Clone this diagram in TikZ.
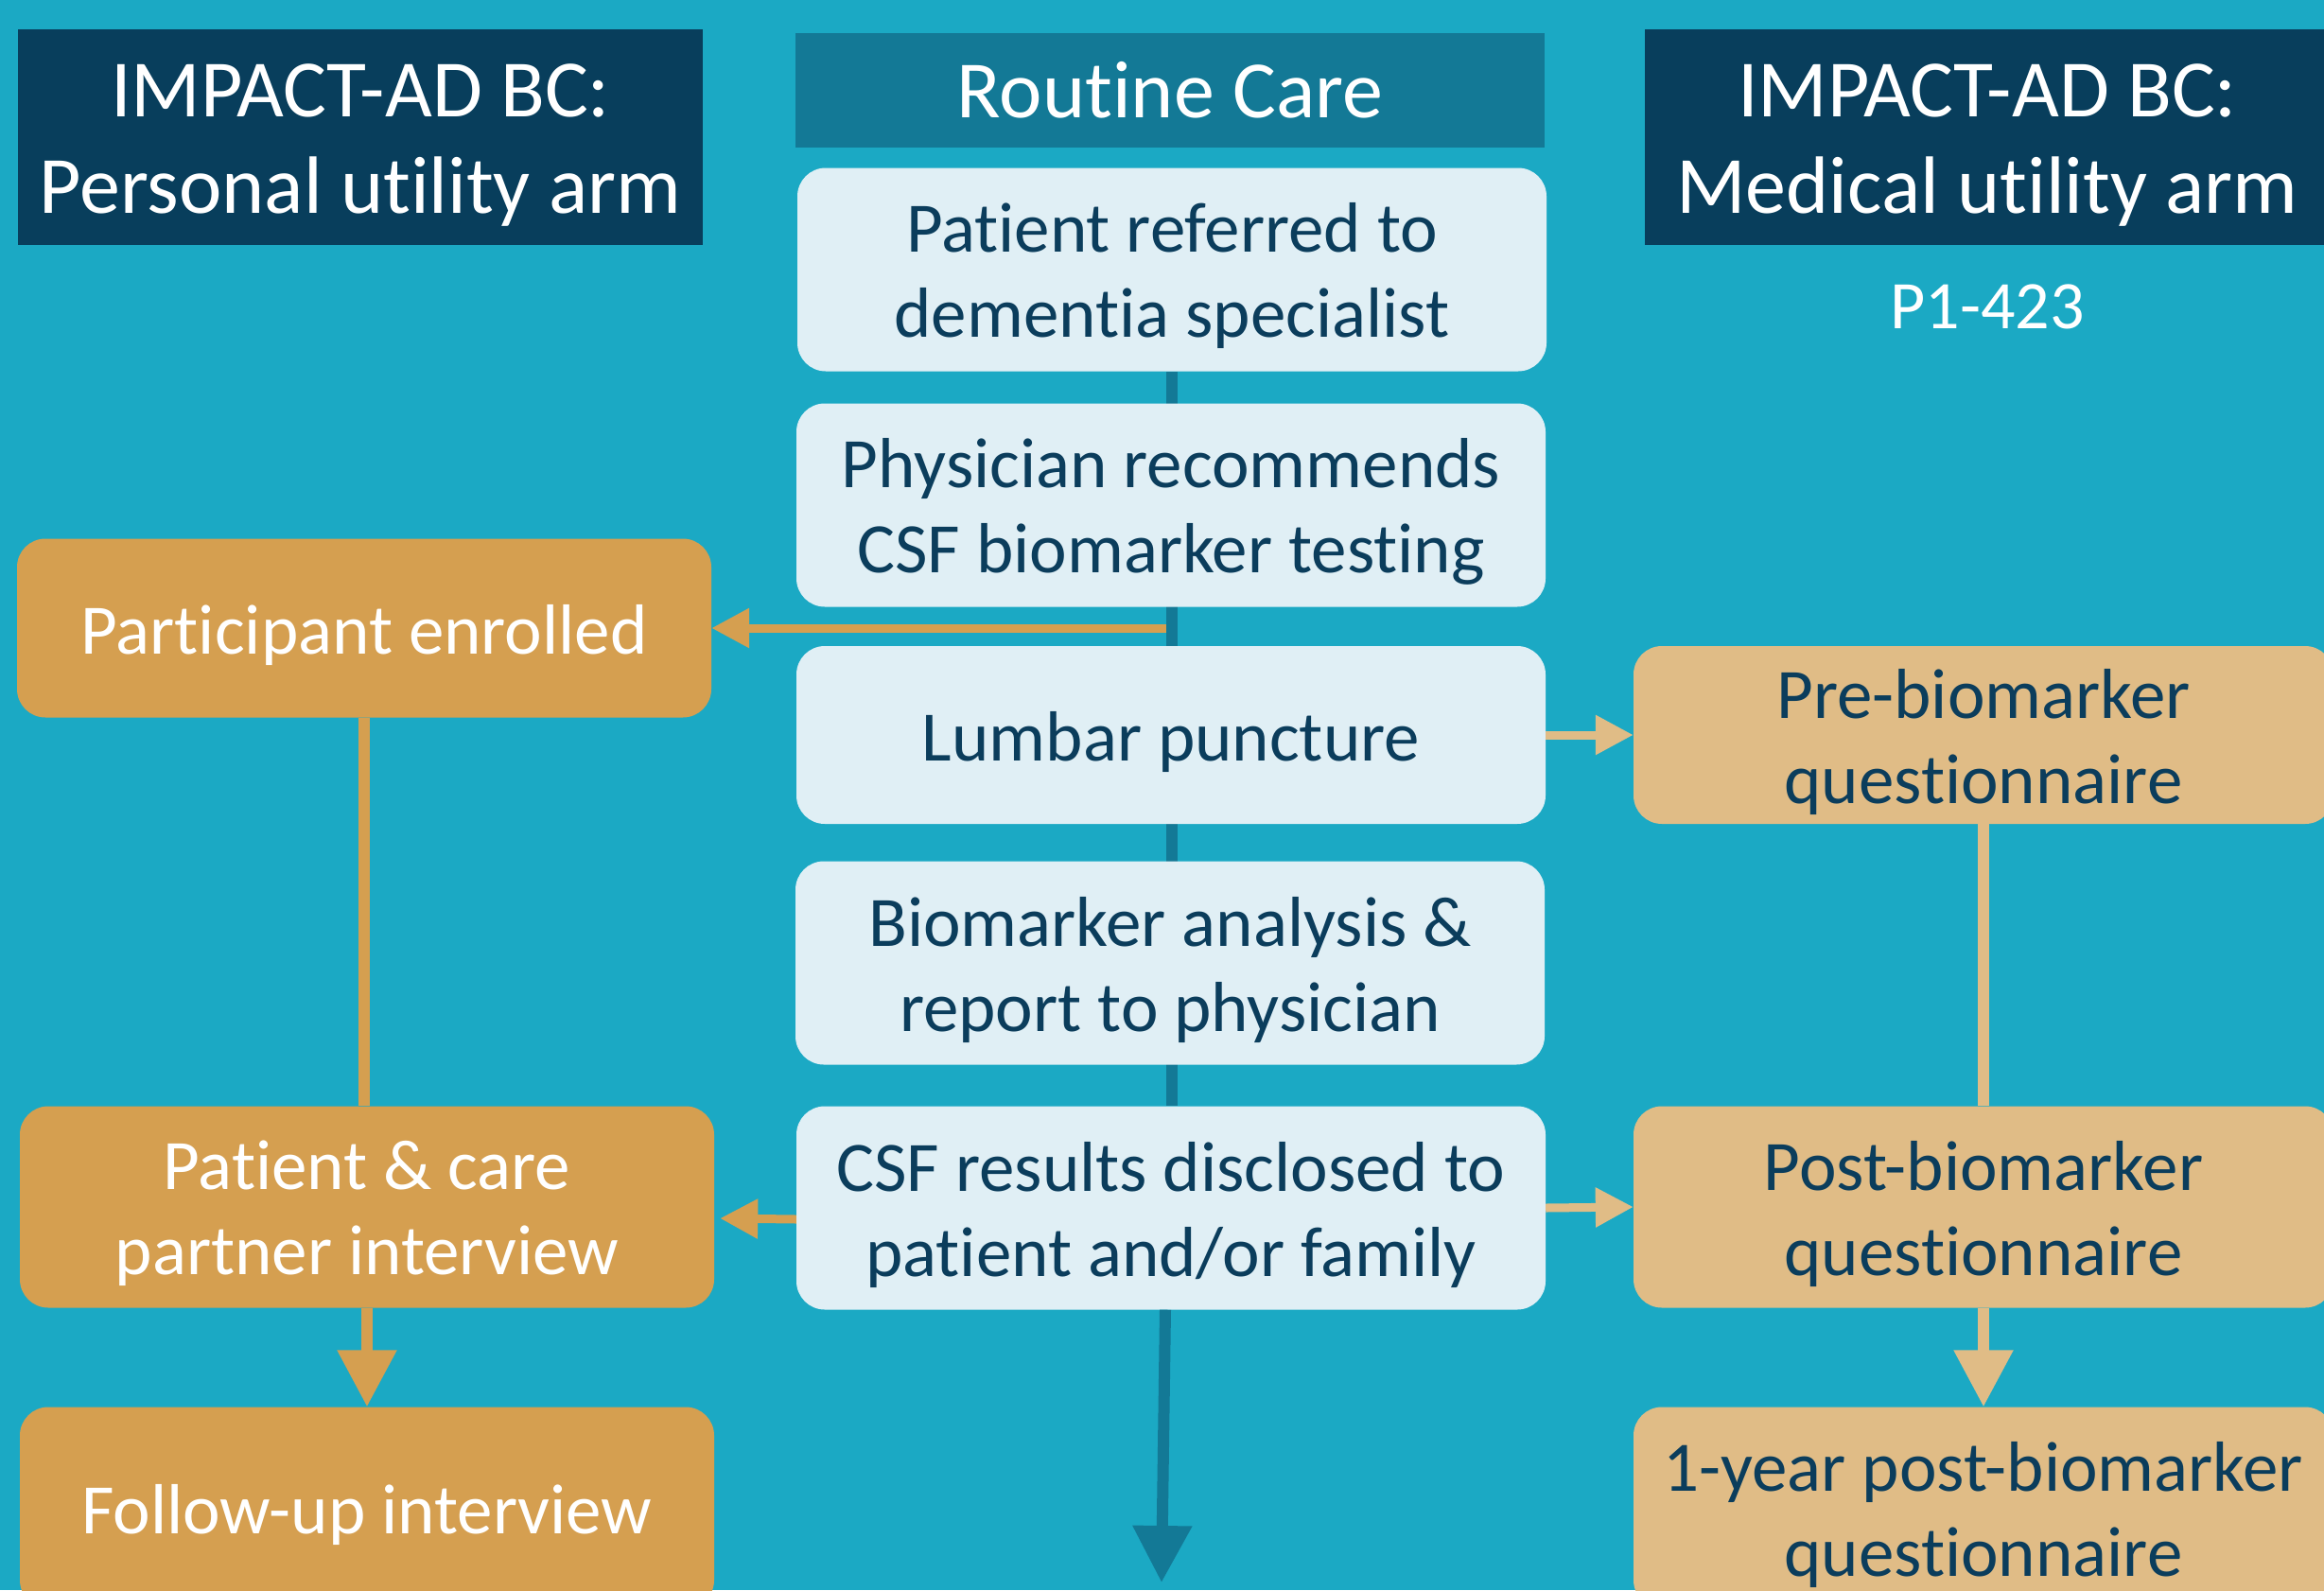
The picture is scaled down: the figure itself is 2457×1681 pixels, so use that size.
\documentclass[tikz,border=0pt]{standalone}
\usepackage{fontspec}
\setmainfont{Carlito}[Ligatures={NoCommon}]
\usetikzlibrary{arrows.meta}
\pgfdeclarelayer{bglayer}
\pgfdeclarelayer{lineslayer}
\pgfsetlayers{bglayer,lineslayer,main}
\definecolor{bgc}{HTML}{1BA9C4}
\definecolor{hdrdark}{HTML}{083E5C}
\definecolor{hdrmid}{HTML}{137996}
\definecolor{lightbox}{HTML}{E0EFF5}
\definecolor{navytext}{HTML}{0B3D5C}
\definecolor{orangebox}{HTML}{D59F50}
\definecolor{lorangebox}{HTML}{E0BC86}
\definecolor{darkline}{HTML}{137996}
\newcommand\boxfont{\fontsize{75}{90}\selectfont}
\newcommand\hdrfont{\fontsize{86}{102}\selectfont}
\newcommand\codefont{\fontsize{72}{88}\selectfont}
\tikzset{
  hdrtext/.style={font=\hdrfont, align=center, inner sep=0pt, text=white},
  boxtext/.style={font=\boxfont, align=center, inner sep=0pt},
  hdrbox/.style={fill=hdrdark, inner sep=0pt, minimum width=724pt, minimum height=228pt,
    label={[hdrtext, yshift=-9pt]center:#1}},
  midhdr/.style={fill=hdrmid, text=white, font=\hdrfont, align=center, inner sep=0pt, minimum width=792pt, minimum height=121pt},
  stepbox/.style={fill=lightbox, rounded corners=30pt, inner sep=0pt, minimum width=792pt, minimum height=215pt,
    label={[boxtext, text=navytext, yshift=-7pt]center:#1}},
  obox/.style={fill=orangebox, rounded corners=30pt, inner sep=0pt, minimum width=734pt, minimum height=213pt,
    label={[boxtext, text=white, yshift=-7pt]center:#1}},
  lobox/.style={fill=lorangebox, rounded corners=30pt, inner sep=0pt, minimum width=740pt, minimum height=213pt,
    label={[boxtext, text=navytext, yshift=-7pt]center:#1}},
  dline/.style={draw=darkline, line width=12pt},
  oline/.style={draw=orangebox, line width=12pt},
  loline/.style={draw=lorangebox, line width=12pt},
  ohline/.style={draw=orangebox, line width=9pt},
  lohline/.style={draw=lorangebox, line width=9pt},
  htip/.style={-{Triangle[length=40pt,width=40pt]}},
  vtip/.style={-{Triangle[length=60pt,width=60pt]}}
}
\begin{document}
\begin{tikzpicture}[x=1pt,y=-1pt]
\useasboundingbox (0,0) rectangle (2457,1681);
\clip (0,0) rectangle (2457,1681);
\begin{pgfonlayer}{bglayer}
\fill[bgc] (0,0) rectangle (2457,1681);
\end{pgfonlayer}

% headers
\node[hdrbox={IMPACT-AD BC:\\Personal utility arm}] (hL) at (381,145) {};
\node[midhdr] (hM) at (1237,95) {Routine Care};
\node[hdrbox={IMPACT-AD BC:\\Medical utility arm}] (hR) at (2101,145) {};
\node[text=white, font=\codefont, inner sep=0pt] (code) at (2101,324) {P1-423};

% routine care column
\node[stepbox={Patient referred to\\dementia specialist}] (m1) at (1239,285) {};
\node[stepbox={Physician recommends\\CSF biomarker testing}] (m2) at (1238,534) {};
\node[stepbox={Lumbar puncture}, minimum height=188pt] (m3) at (1238,777) {};
\node[stepbox={Biomarker analysis \&\\report to physician}] (m4) at (1237,1018) {};
\node[stepbox={CSF results disclosed to\\patient and/or family}] (m5) at (1238,1277) {};

% personal utility arm
\node[obox={Participant enrolled}, minimum height=189pt] (pe) at (385,664) {};
\node[obox={Patient \& care\\partner interview}] (pc) at (388,1276) {};
\node[obox={Follow-up interview}] (fu) at (388,1594) {};

% medical utility arm
\node[lobox={Pre-biomarker\\questionnaire}, minimum height=188pt] (pre) at (2097,777) {};
\node[lobox={Post-biomarker\\questionnaire}] (post) at (2097,1276) {};
\node[lobox={1-year post-biomarker\\questionnaire}] (yr) at (2097,1594) {};

\coordinate (endtip) at (1228,1673);

\begin{pgfonlayer}{lineslayer}
\draw[ohline, htip] (m2.south |- pe.east) -- (pe.east);
\draw[dline] (m1.south) -- (m1.south |- m5.north);
\draw[oline] (pe.south) -- (pe.south |- pc.north);
\draw[loline] (pre.south) -- (pre.south |- post.north);
\end{pgfonlayer}

\draw[dline, vtip] ([xshift=-6pt]m5.south) -- (endtip);
\draw[lohline, htip] (m3.east) -- (pre.west);
\draw[ohline, htip] ([yshift=-12pt]m5.west) -- ([yshift=-12pt,xshift=6pt]pc.east);
\draw[lohline, htip] (m5.east) -- (post.west);
\draw[oline, vtip] (pc.south) -- (fu.north);
\draw[loline, vtip] (post.south) -- (yr.north);
\end{tikzpicture}
\end{document}
